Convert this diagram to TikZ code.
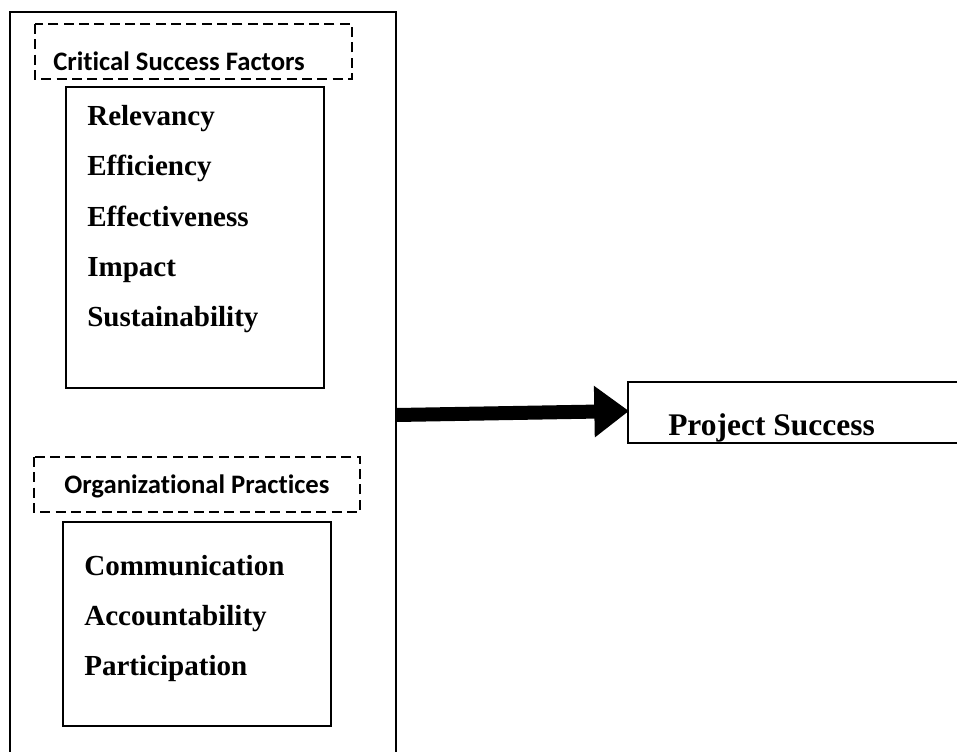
\documentclass[tikz,border=0pt]{standalone}
\usepackage{fontspec}
\setmainfont{Liberation Serif}
\newfontfamily\calibrifont[Ligatures=NoCommon]{Carlito}
\usetikzlibrary{arrows.meta}
\begin{document}
\begin{tikzpicture}[x=0.75pt,y=-0.75pt,
  solidbox/.style={draw=black,line width=1.6pt,fill=none},
  dashbox/.style={draw=black,line width=1.6pt,dash pattern=on 7.5pt off 4pt},
  itemtext/.style={anchor=base west,inner sep=0pt,font=\fontsize{21.8}{24}\selectfont\bfseries},
  headtext/.style={anchor=base west,inner sep=0pt,font=\fontsize{20}{22}\selectfont\calibrifont\bfseries},
  bigarrow/.style={line width=10.5pt,-{Triangle[length=26pt,width=37pt]}}]
\useasboundingbox (0,0) rectangle (957,751);
\clip (0,0) rectangle (957,751);
% outer box
\draw[solidbox] (10,12) rectangle (396,770);
% dashed header boxes
\draw[dashbox] (35,24) rectangle (352,79);
\draw[dashbox] (34,457) rectangle (360,512);
% inner boxes
\draw[solidbox] (66,87) rectangle (324,388);
\draw[solidbox] (63,522) rectangle (331,726);
% project success box
\draw[solidbox] (628,382) rectangle (975,443);
% headers
\node[headtext] (csf) at (53,70) {Critical Success Factors};
\node[headtext] (op) at (64,493) {Organizational Practices};
% items
\node[itemtext] (rel) at (87,125) {Relevancy};
\node[itemtext] (eff) at (87,175) {Efficiency};
\node[itemtext] (efv) at (87,226) {Effectiveness};
\node[itemtext] (imp) at (87,276) {Impact};
\node[itemtext] (sus) at (87,326) {Sustainability};
\node[itemtext] (com) at (84,575) {Communication};
\node[itemtext] (acc) at (84,625) {Accountability};
\node[itemtext] (par) at (84,675) {Participation};
% project success
\node[anchor=base west,inner sep=0pt,font=\fontsize{23.6}{26}\selectfont\bfseries] (ps) at (668,435) {Project Success};
\coordinate (ps west) at (629,411);
\coordinate (arrstart) at (396,415);
\draw[bigarrow] (arrstart) -- (ps west);
\end{tikzpicture}
\end{document}
